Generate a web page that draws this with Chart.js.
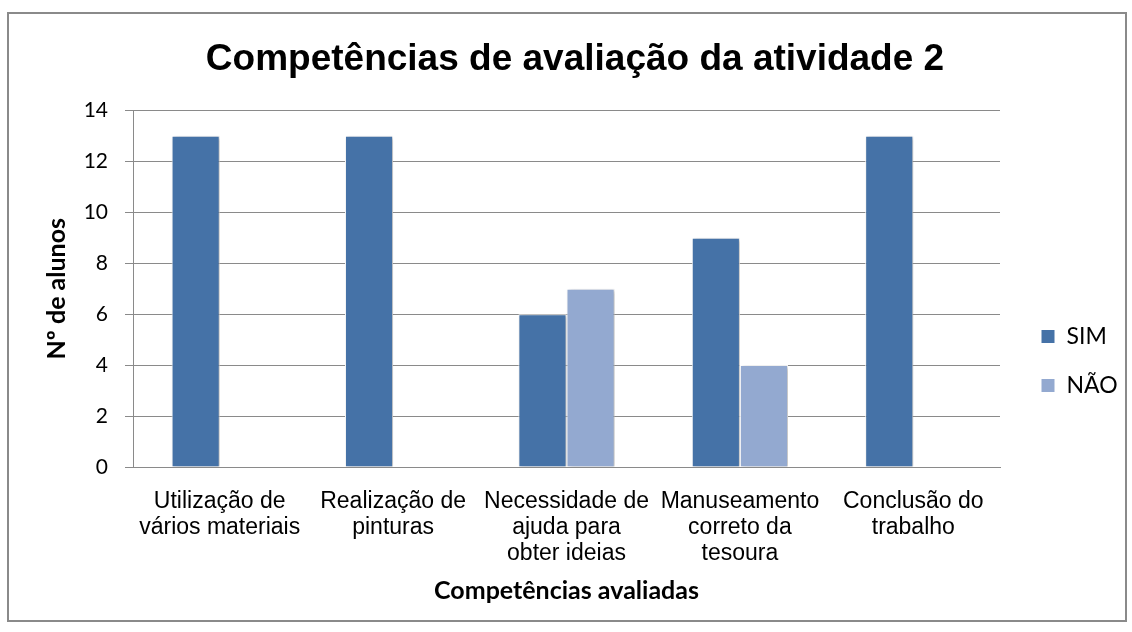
<!DOCTYPE html>
<html>
<head>
<meta charset="utf-8">
<script src="https://cdn.jsdelivr.net/npm/chart.js@4/dist/chart.umd.min.js"></script>
<style>
  body { margin: 0; background: #fff; }
  #box {
    position: absolute; left: 7px; top: 12px;
    width: 1116px; height: 606px;
    border: 2px solid #8a8a8a; background: #fff;
  }
</style>
</head>
<body>
<div id="box"><canvas id="barChart" width="1116" height="606"></canvas></div>
<script>
const categorias = [
  ['Utilização de', 'vários materiais'],
  ['Realização de', 'pinturas'],
  ['Necessidade de', 'ajuda para', 'obter ideias'],
  ['Manuseamento', 'correto da', 'tesoura'],
  ['Conclusão do', 'trabalho']
]
const sim = [13, 13, 6, 9, 13]
const nao = [0, 0, 7, 4, 0]
const yTicks = [0, 2, 4, 6, 8, 10, 12, 14]

// sombra leve nas barras, como no Excel
const sombra = {
  id: 'sombra',
  beforeDatasetsDraw (chart) {
    const ctx = chart.ctx
    ctx.save()
    ctx.shadowColor = 'rgba(0,0,0,0.28)'
    ctx.shadowBlur = 4
    ctx.shadowOffsetX = 2
    ctx.shadowOffsetY = 1
  },
  afterDatasetsDraw (chart) {
    chart.ctx.restore()
  }
}

// legenda com largura fixa e deslocada para onde está no original
const ajustes = {
  id: 'ajustes',
  afterInit (chart) {
    const lg = chart.legend
    const fit = lg.fit.bind(lg)
    lg.fit = function () { fit(); this.width = 125 }
  },
  afterLayout (chart) {
    const lg = chart.legend
    const w = lg.right - lg.left
    lg.left = 1006
    lg.right = lg.left + w
    lg.top += 51
    lg.bottom += 51
    const t = chart.titleBlock
    t.left += 8
    t.right += 8
  }
}

const CHART = document.getElementById('barChart')
new Chart(CHART, {
  type: 'bar',
  data: {
    labels: categorias,
    datasets: [
      {
        label: 'SIM',
        backgroundColor: '#4572A7',
        borderColor: '#ffffff',
        borderWidth: 1,
        data: sim
      },
      {
        label: 'NÃO',
        backgroundColor: '#93A9D0',
        borderColor: '#ffffff',
        borderWidth: 1,
        data: nao
      }
    ]
  },
  plugins: [sombra, ajustes],
  options: {
    responsive: false,
    animation: false,
    categoryPercentage: 0.555,
    barPercentage: 1,
    layout: { padding: { left: 0, right: 0, top: 0, bottom: 14 } },
    plugins: {
      title: {
        display: true,
        text: 'Competências de avaliação da atividade 2',
        color: '#000',
        font: { family: 'Liberation Sans', size: 37, weight: 'bold' },
        padding: { top: 24, bottom: 28 }
      },
      legend: {
        position: 'right',
        labels: {
          boxWidth: 14,
          boxHeight: 14,
          color: '#000',
          padding: 26,
          font: { family: 'Lato', size: 23 }
        }
      },
      tooltip: { enabled: false }
    },
    scales: {
      x: {
        afterFit (axis) { axis.height = 139 },
        grid: { display: false, drawTicks: false },
        border: { color: '#8a8a8a', width: 1 },
        ticks: {
          color: '#000',
          maxRotation: 0,
          autoSkip: false,
          padding: 22,
          font: { family: 'Liberation Sans', size: 23, lineHeight: 1.13 }
        },
        title: {
          display: true,
          text: 'Competências avaliadas',
          color: '#000',
          font: { family: 'Lato', size: 25, weight: 'bold' },
          padding: { top: 0, bottom: 0 }
        }
      },
      y: {
        min: 0,
        max: 14,
        afterBuildTicks (axis) { axis.ticks = yTicks.map(v => ({ value: v })) },
        afterFit (axis) { axis.width = 124 },
        grid: { color: '#8a8a8a', tickLength: 8 },
        border: { color: '#8a8a8a' },
        ticks: {
          color: '#000',
          padding: 17,
          font: { family: 'Lato', size: 21 }
        },
        title: {
          display: true,
          text: 'Nº de alunos',
          color: '#000',
          font: { family: 'Lato', size: 25, weight: 'bold' },
          padding: { top: 33 }
        }
      }
    }
  }
})
</script>
</body>
</html>
